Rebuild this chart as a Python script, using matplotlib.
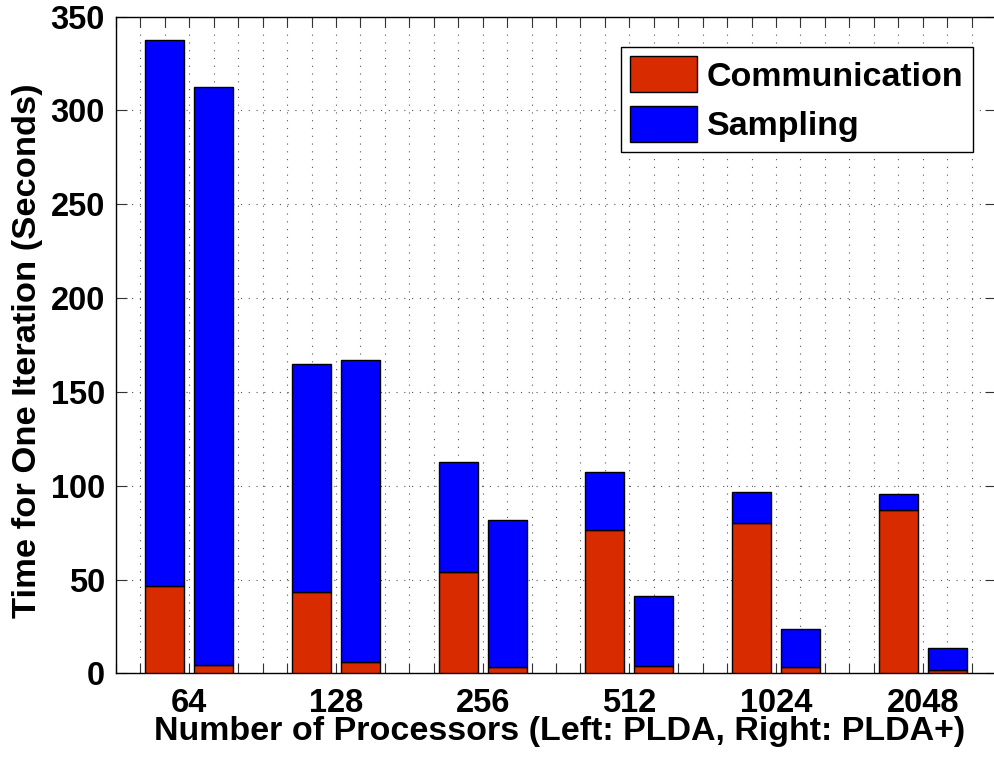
import matplotlib
matplotlib.use('Agg')
import matplotlib.pyplot as plt
import numpy as np

procs = ['64', '128', '256', '512', '1024', '2048']
# left: PLDA, right: PLDA+
plda_comm = [46.7, 43.2, 54.1, 76.6, 80.2, 87.0]
plda_total = [337.4, 164.9, 112.6, 107.3, 96.6, 95.8]
pldap_comm = [4.3, 6.2, 3.5, 3.7, 3.4, 1.9]
pldap_total = [312.7, 167.0, 81.8, 41.1, 23.5, 13.5]

plda_samp = np.array(plda_total) - np.array(plda_comm)
pldap_samp = np.array(pldap_total) - np.array(pldap_comm)

red = '#D92B00'
blue = '#0000FF'

plt.rcParams['font.family'] = ['Liberation Sans', 'DejaVu Sans']
plt.rcParams['font.weight'] = 'bold'
plt.rcParams['font.size'] = 24

fig = plt.figure(figsize=(9.95, 7.58), dpi=100)
ax = fig.add_axes([116 / 995, 84.7 / 758, 880 / 995, 656.6 / 758])

x = np.arange(1, len(procs) + 1)
off = 1.0 / 6
w = 0.266

ax.bar(x - off, plda_comm, w, color=red, edgecolor='black', linewidth=1, label='Communication', zorder=3)
ax.bar(x - off, plda_samp, w, bottom=plda_comm, color=blue, edgecolor='black', linewidth=1, label='Sampling', zorder=3)
ax.bar(x + off, pldap_comm, w, color=red, edgecolor='black', linewidth=1, zorder=3)
ax.bar(x + off, pldap_samp, w, bottom=pldap_comm, color=blue, edgecolor='black', linewidth=1, zorder=3)

ax.set_xlim(0.5, 6.5)
ax.set_ylim(0, 350)
ax.set_xticks(x)
ax.set_xticklabels(procs)
ax.set_xticks(np.arange(0.5, 6.51, 1.0 / 6), minor=True)
ax.set_yticks(np.arange(0, 351, 50))

ax.tick_params(axis='both', which='both', direction='in', top=True, right=True, width=0.8, color='#333333')
ax.tick_params(axis='y', which='major', length=8, pad=8, labelsize=23.5)
ax.tick_params(axis='x', which='major', length=7, pad=10.6, labelsize=23.5)
ax.tick_params(axis='x', which='minor', length=7)

ax.grid(True, axis='y', which='major', color='#555555', linestyle=(0, (1, 6)), linewidth=0.8, zorder=0)
ax.grid(True, axis='x', which='both', color='#555555', linestyle=(0, (1, 6)), linewidth=0.8, zorder=0)
ax.set_axisbelow(True)

for s in ax.spines.values():
    s.set_linewidth(1)
    s.set_color('black')

ax.set_xlabel('Number of Processors (Left: PLDA, Right: PLDA+)', fontweight='bold', fontsize=24.5)
ax.set_ylabel('Time for One Iteration (Seconds)', fontweight='bold', fontsize=24.8)
ax.xaxis.set_label_coords(0.504, -0.0655)
ax.yaxis.set_label_coords(-0.083, 0.491)

leg = ax.legend(loc='upper right', bbox_to_anchor=(0.974, 0.954), borderaxespad=0,
                fancybox=False, framealpha=1, edgecolor='black', handlelength=1.95,
                handleheight=1.25, handletextpad=0.3, labelspacing=0.38,
                borderpad=0.28, prop={'weight': 'bold', 'size': 24.5})
leg.get_frame().set_linewidth(1)

fig.savefig('out.png', dpi=100)
